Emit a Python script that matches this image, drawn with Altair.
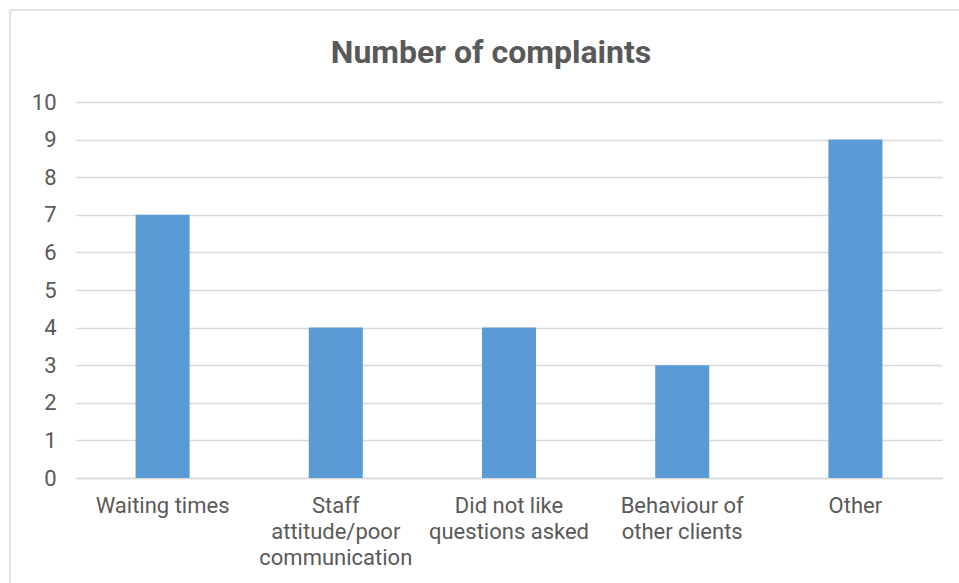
import altair as alt
import pandas as pd

categories = [
    "Waiting times",
    "Staff\nattitude/poor\ncommunication",
    "Did not like\nquestions asked",
    "Behaviour of\nother clients",
    "Other",
]
complaints = [7, 4, 4, 3, 9]
y_ticks = [0, 1, 2, 3, 4, 5, 6, 7, 8, 9, 10]
title_text = ["Number of complaints"]

df = pd.DataFrame({"category": categories, "complaints": complaints})

FONT = "Roboto"
GREY = "#595959"

W, H = 866, 376
one = pd.DataFrame({"k": [0]})

border_top = alt.Chart(one).mark_rule(color="#D9D9D9", strokeWidth=1.5).encode(
    x=alt.value(-66), x2=alt.value(W + 40), y=alt.value(-92)
)
border_left = alt.Chart(one).mark_rule(color="#D9D9D9", strokeWidth=1.5).encode(
    x=alt.value(-66), y=alt.value(-92), y2=alt.value(H + 120)
)

title = alt.Chart(pd.DataFrame({"t": title_text})).mark_text(
    font=FONT, fontSize=32, fontWeight="bold", color=GREY, baseline="middle", align="center"
).encode(
    text="t:N", x=alt.value(415), y=alt.value(-49)
)

bars = alt.Chart(df).mark_bar(color="#5B9BD5").encode(
    x=alt.X(
        "category:N",
        sort=categories,
        title=None,
        scale=alt.Scale(paddingInner=0.688, paddingOuter=0.344),
        axis=alt.Axis(
            labelAngle=0,
            labelExpr="split(datum.label, '\\n')",
            labelFont=FONT,
            labelFontSize=22,
            labelColor=GREY,
            labelLineHeight=26,
            labelPadding=17,
            labelBaseline="top",
            ticks=False,
            domainColor="#D9D9D9",
            domainWidth=1.5,
        ),
    ),
    y=alt.Y(
        "complaints:Q",
        title=None,
        scale=alt.Scale(domain=[0, 10]),
        axis=alt.Axis(
            values=y_ticks,
            labelFont=FONT,
            labelFontSize=22,
            labelColor=GREY,
            labelPadding=20,
            ticks=False,
            domain=False,
            gridColor="#D9D9D9",
            gridWidth=1.3,
        ),
    ),
)

chart = alt.layer(border_top, border_left, title, bars).properties(
    width=W,
    height=H,
    autosize=alt.AutoSizeParams(type="none"),
    padding={"left": 76, "top": 102, "right": 17, "bottom": 105},
).configure(background="white").configure_view(stroke=None)

chart.save("out.html", embed_options={"renderer": "svg", "actions": False})
